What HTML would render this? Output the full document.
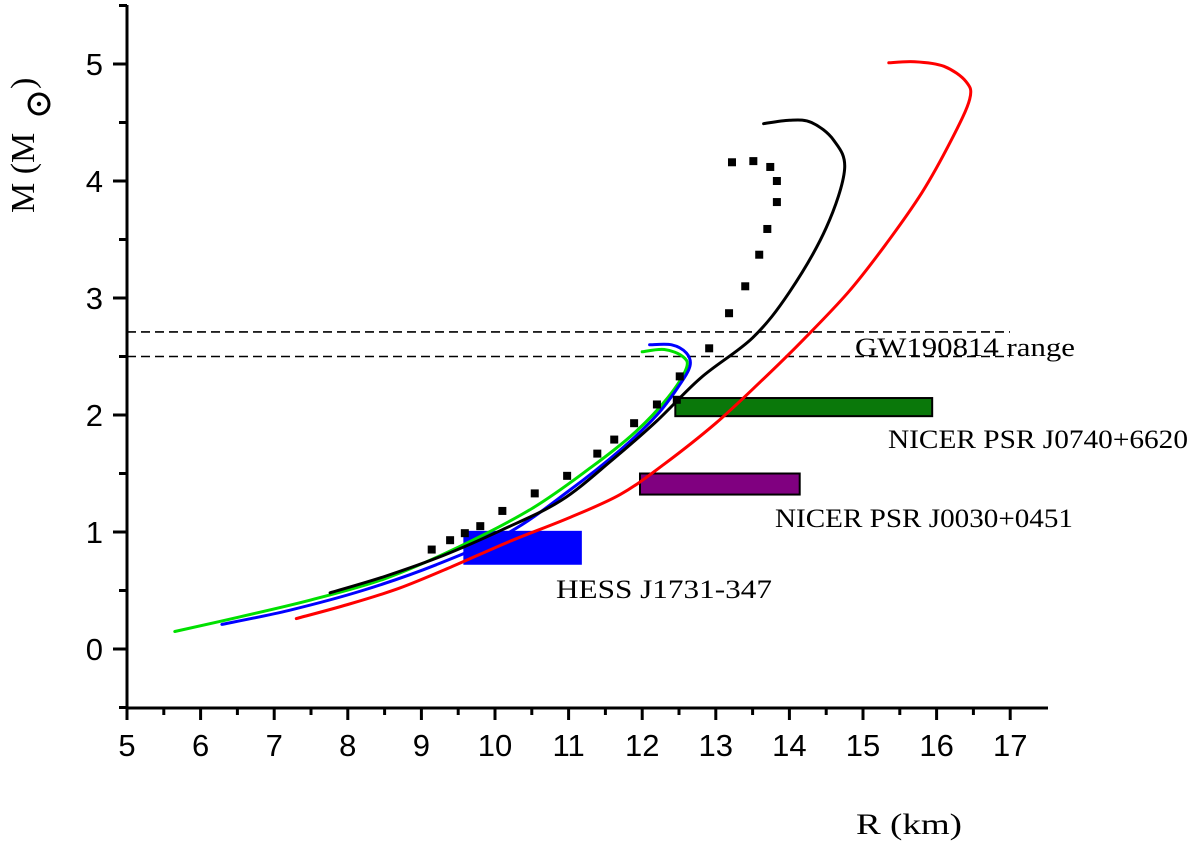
<!DOCTYPE html>
<html><head><meta charset="utf-8"><style>body{margin:0;background:#fff}svg{display:block}</style></head>
<body>
<svg id="chart" width="1200" height="844" xmlns="http://www.w3.org/2000/svg"></svg>
<script>
const xTicks=[5,6,7,8,9,10,11,12,13,14,15,16,17];
const yTicks=[0,1,2,3,4,5];
const redR=[7.3,8.0,8.7,9.4,10.2,11.0,11.7,12.3,13.0,13.6,14.2,14.8,15.3,15.8,16.2,16.45,16.4,16.1,15.7,15.35];
const redM=[0.26,0.38,0.52,0.70,0.92,1.12,1.32,1.58,1.93,2.28,2.65,3.05,3.45,3.90,4.35,4.70,4.85,4.98,5.02,5.01];
const blackR=[7.76,8.5,9.3,10.1,10.9,11.6,12.2,12.8,13.5,14.0,14.5,14.75,14.6,14.3,14.0,13.65];
const blackM=[0.48,0.62,0.80,1.02,1.27,1.62,1.95,2.32,2.66,3.05,3.6,4.1,4.35,4.5,4.52,4.49];
const greenR=[5.65,6.5,7.5,8.5,9.5,10.5,11.3,11.9,12.35,12.6,12.55,12.3,12.0];
const greenM=[0.15,0.27,0.42,0.6,0.87,1.2,1.55,1.85,2.15,2.4,2.5,2.56,2.54];
const blueR=[6.29,7.2,8.2,9.2,10.2,11.0,11.7,12.2,12.5,12.65,12.6,12.4,12.1];
const blueM=[0.21,0.33,0.5,0.72,1.0,1.35,1.7,2.0,2.25,2.42,2.53,2.6,2.6];
const dotR=[9.14,9.39,9.59,9.8,10.1,10.54,10.98,11.39,11.62,11.89,12.2,12.47,12.51,12.91,13.18,13.4,13.59,13.7,13.83,13.83,13.74,13.51,13.22];
const dotM=[0.85,0.93,0.99,1.05,1.18,1.33,1.48,1.67,1.79,1.93,2.09,2.13,2.33,2.57,2.87,3.1,3.37,3.59,3.82,4.0,4.12,4.17,4.16];
const gwM=[2.5,2.71];
const boxNames=["nicer-j0740-box","nicer-j0030-box","hess-j1731-box"];
const boxR0=[12.45,11.97,9.57];
const boxR1=[15.94,14.14,11.18];
const boxM0=[1.99,1.32,0.72];
const boxM1=[2.145,1.5,1.01];
const boxColors=["#0a780a","#800080","#0000ff"];

const NS="http://www.w3.org/2000/svg";
const svg=document.getElementById('chart');
const X=r=>127+(r-5)*73.6;
const Y=m=>649-m*117;
function el(t,a,p){const e=document.createElementNS(NS,t);for(const k in a)e.setAttribute(k,a[k]);(p||svg).appendChild(e);return e;}

boxNames.forEach((n,i)=>{
 const b=el('rect',{x:X(boxR0[i]),y:Y(boxM1[i]),width:X(boxR1[i])-X(boxR0[i]),height:Y(boxM0[i])-Y(boxM1[i]),fill:boxColors[i],stroke:i<2?'#000':'none','stroke-width':2});
 
 
});
gwM.forEach(m=>{
 const l=el('line',{x1:127,x2:1010,y1:Y(m),y2:Y(m),stroke:'#000','stroke-width':1.6,'stroke-dasharray':'9,5'});
 
 
});
function smooth(pts){
 let d='M'+pts[0][0].toFixed(1)+','+pts[0][1].toFixed(1);
 for(let i=0;i<pts.length-1;i++){
  const p0=pts[Math.max(0,i-1)],p1=pts[i],p2=pts[i+1],p3=pts[Math.min(pts.length-1,i+2)];
  const c1=[p1[0]+(p2[0]-p0[0])/6,p1[1]+(p2[1]-p0[1])/6];
  const c2=[p2[0]-(p3[0]-p1[0])/6,p2[1]-(p3[1]-p1[1])/6];
  d+='C'+c1[0].toFixed(1)+','+c1[1].toFixed(1)+' '+c2[0].toFixed(1)+','+c2[1].toFixed(1)+' '+p2[0].toFixed(1)+','+p2[1].toFixed(1);
 }
 return d;
}
function curve(R,M,c,n){
 const p=el('path',{d:smooth(R.map((r,i)=>[X(r),Y(M[i])])),fill:'none',stroke:c,'stroke-width':3,'stroke-linejoin':'round','stroke-linecap':'round'});
 
 
}
curve(redR,redM,'#ff0000','red-curve');
curve(greenR,greenM,'#00e000','green-curve');
curve(blueR,blueM,'#0000ff','blue-curve');
curve(blackR,blackM,'#000','black-curve');
dotR.forEach((r,i)=>{
 const s=el('rect',{x:X(r)-4,y:Y(dotM[i])-4,width:8,height:8,fill:'#000'});
 
 
});
const ax=el('path',{d:'M127,5L127,708L1048,708',fill:'none',stroke:'#000','stroke-width':3});


xTicks.forEach(t=>{
 el('line',{x1:X(t),x2:X(t),y1:708,y2:720,stroke:'#000','stroke-width':3});
 if(t<17)el('line',{x1:X(t+0.5),x2:X(t+0.5),y1:708,y2:715,stroke:'#000','stroke-width':3});
 const tx=el('text',{x:X(t),y:756,'text-anchor':'middle','font-family':'Liberation Sans, sans-serif','font-size':31});
 tx.textContent=t;
 
 
});
yTicks.forEach(t=>{
 el('line',{x1:113,x2:127,y1:Y(t),y2:Y(t),stroke:'#000','stroke-width':3});
 el('line',{x1:119,x2:127,y1:Y(t+0.5),y2:Y(t+0.5),stroke:'#000','stroke-width':3});
 const tx=el('text',{x:103,y:Y(t)+11,'text-anchor':'end','font-family':'Liberation Sans, sans-serif','font-size':31});
 tx.textContent=t;
 
 
});
el('line',{x1:119,x2:127,y1:Y(-0.5),y2:Y(-0.5),stroke:'#000','stroke-width':3});
function lab(x,y,s,txt,n,w){const t=el('text',{x:x,y:y,'font-family':'Liberation Serif, serif','font-size':s});if(w){t.setAttribute('textLength',w);t.setAttribute('lengthAdjust','spacingAndGlyphs');}t.textContent=txt;return t;}
lab(855,356,26,'GW190814 range','gw190814-label',220);
lab(888,448,26,'NICER PSR J0740+6620','nicer-j0740-label',300);
lab(775,527,26,'NICER PSR J0030+0451','nicer-j0030-label',298);
lab(556,598,26,'HESS J1731-347','hess-label',216);
lab(856,834,30,'R (km)','x-axis-title',106);
const yl=lab(0,0,34,'M (M','y-axis-title');
yl.setAttribute('transform','translate(34,213) rotate(-90)');
const yl2=lab(0,0,34,')','y-axis-title-close');
yl2.setAttribute('transform','translate(34,89) rotate(-90)');
const sun=el('circle',{cx:39,cy:104,r:10,fill:'none',stroke:'#000','stroke-width':3});


el('circle',{cx:39,cy:104,r:2.2,fill:'#000'});
</script>
</body></html>
